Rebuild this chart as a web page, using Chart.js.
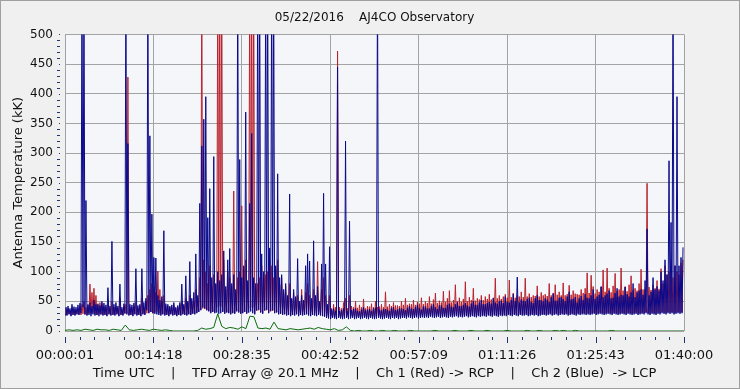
<!DOCTYPE html>
<html>
<head>
<meta charset="utf-8">
<title>AJ4CO Observatory 05/22/2016</title>
<script src="https://cdn.jsdelivr.net/npm/chart.js@4.4.1/dist/chart.umd.min.js"></script>
<style>
  html, body { margin: 0; padding: 0; background: #f0f0f0; }
  canvas { display: block; }
</style>
</head>
<body>
<canvas id="chart" width="740" height="389"></canvas>
<script>
"use strict";

// time axis: seconds after 00:00:00 UTC
const timeStart = 1;
const timeEnd = 6000;
const timeLabels = ["00:00:01", "00:14:18", "00:28:35", "00:42:52", "00:57:09", "01:11:26", "01:25:43", "01:40:00"];
const minorPerMajor = 6;

// Ch 2 (Blue) -> LCP, per time bin: highest and lowest reading (kK)
const lcpHigh = [
    40, 42, 38, 45, 41, 40, 44, 47, 600, 600,
    220, 44, 48, 42, 52, 45, 46, 43, 50, 47,
    44, 73, 42, 151, 45, 48, 42, 79, 40, 46,
    600, 316, 45, 44, 47, 105, 43, 45, 105, 48,
    55, 600, 329, 197, 124, 123, 60, 52, 58, 169,
    46, 45, 42, 44, 48, 40, 43, 48, 79, 45,
    93, 50, 117, 55, 65, 130, 60, 215, 312, 357,
    395, 191, 240, 90, 294, 80, 100, 85, 95, 135,
    75, 120, 139, 80, 95, 70, 600, 289, 90, 110,
    369, 85, 215, 333, 90, 80, 600, 600, 130, 100,
    600, 600, 140, 600, 600, 110, 265, 90, 95, 70,
    80, 60, 231, 55, 70, 58, 122, 50, 60, 52,
    110, 130, 118, 55, 152, 60, 75, 50, 113, 232,
    113, 45, 142, 36, 38, 34, 445, 34, 35, 38,
    320, 33, 185, 35, 37, 38, 34, 33, 36, 40,
    35, 36, 37, 34, 38, 39, 600, 36, 35, 37,
    37, 36, 34, 39, 40, 35, 36, 38, 38, 37,
    35, 39, 42, 38, 37, 40, 44, 39, 36, 41,
    41, 38, 38, 42, 45, 40, 37, 43, 43, 39,
    39, 44, 46, 41, 40, 45, 48, 42, 42, 44,
    47, 43, 41, 46, 50, 44, 44, 48, 52, 45,
    45, 47, 49, 46, 55, 48, 46, 50, 51, 47,
    58, 49, 48, 52, 62, 50, 91, 48, 53, 51,
    50, 54, 56, 49, 47, 55, 60, 52, 52, 50,
    55, 53, 49, 57, 63, 51, 51, 56, 57, 54,
    50, 58, 66, 53, 54, 57, 48, 55, 59, 52,
    62, 56, 55, 60, 70, 54, 58, 61, 75, 57,
    60, 63, 68, 55, 56, 64, 72, 58, 61, 60,
    74, 62, 58, 65, 80, 57, 65, 68, 70, 61,
    85, 172, 60, 66, 90, 70, 75, 68, 100, 85,
    120, 95, 287, 183, 600, 110, 395, 110, 124, 141
];
const lcpLow = [
    27, 26, 28, 25, 27, 26, 28, 27, 30, 40,
    28, 26, 27, 25, 28, 26, 27, 25, 28, 26,
    27, 25, 28, 26, 27, 26, 28, 25, 27, 26,
    30, 28, 26, 27, 25, 28, 26, 27, 25, 28,
    27, 35, 30, 32, 30, 29, 28, 27, 26, 28,
    26, 27, 25, 28, 26, 27, 25, 27, 26, 28,
    27, 26, 28, 27, 29, 28, 30, 32, 35, 40,
    38, 35, 33, 30, 32, 30, 31, 29, 30, 32,
    29, 31, 30, 28, 30, 29, 33, 31, 29, 30,
    32, 29, 31, 33, 30, 28, 35, 36, 31, 29,
    35, 36, 30, 34, 35, 30, 31, 28, 29, 27,
    28, 26, 27, 25, 27, 26, 28, 25, 27, 26,
    27, 28, 26, 25, 27, 26, 25, 27, 26, 25,
    24, 22, 21, 20, 22, 21, 20, 22, 21, 20,
    21, 22, 20, 21, 22, 20, 21, 22, 20, 21,
    22, 21, 20, 22, 21, 20, 21, 22, 21, 20,
    21, 22, 21, 20, 22, 21, 22, 20, 21, 22,
    22, 21, 23, 22, 21, 22, 23, 21, 22, 23,
    22, 23, 22, 24, 23, 22, 23, 24, 22, 23,
    24, 23, 22, 24, 23, 24, 25, 23, 24, 23,
    24, 25, 23, 24, 25, 24, 23, 25, 24, 25,
    25, 24, 26, 25, 24, 26, 25, 24, 26, 25,
    26, 25, 27, 26, 25, 27, 26, 25, 27, 26,
    26, 27, 25, 26, 27, 26, 27, 25, 26, 27,
    27, 26, 27, 28, 26, 27, 28, 26, 27, 28,
    27, 28, 26, 27, 28, 27, 26, 28, 27, 28,
    28, 27, 28, 27, 28, 29, 27, 28, 29, 28,
    27, 28, 29, 28, 27, 29, 28, 27, 28, 29,
    28, 27, 29, 28, 27, 28, 29, 27, 28, 29,
    28, 30, 28, 27, 29, 28, 27, 29, 28, 30,
    29, 28, 30, 29, 30, 28, 29, 30, 29, 30
];

// Ch 1 (Red) -> RCP, same bins
const rcpHigh = [
    36, 38, 35, 40, 37, 36, 38, 42, 45, 50,
    40, 45, 79, 65, 72, 60, 44, 48, 46, 42,
    40, 45, 38, 50, 40, 42, 38, 55, 36, 42,
    45, 428, 40, 40, 42, 48, 39, 42, 55, 40,
    50, 60, 70, 80, 75, 65, 101, 70, 50, 60,
    42, 42, 40, 40, 44, 38, 40, 45, 50, 42,
    55, 48, 60, 50, 50, 70, 55, 90, 600, 120,
    100, 80, 110, 75, 95, 78, 600, 600, 600, 120,
    70, 100, 90, 75, 236, 66, 90, 100, 211, 105,
    120, 80, 600, 600, 600, 70, 80, 90, 110, 88,
    95, 100, 120, 110, 90, 105, 120, 78, 90, 63,
    75, 58, 80, 54, 65, 56, 60, 49, 70, 50,
    65, 80, 60, 50, 70, 55, 117, 48, 70, 90,
    60, 42, 60, 38, 45, 40, 472, 40, 38, 48,
    55, 38, 60, 42, 40, 50, 39, 44, 40, 54,
    38, 42, 41, 46, 40, 50, 40, 41, 45, 40,
    66, 41, 45, 42, 48, 43, 43, 42, 50, 44,
    55, 44, 46, 45, 52, 44, 49, 46, 56, 45,
    50, 47, 58, 46, 53, 64, 47, 51, 48, 67,
    49, 55, 68, 48, 52, 78, 50, 56, 49, 54,
    83, 50, 57, 52, 72, 51, 55, 53, 60, 52,
    58, 54, 62, 53, 56, 89, 55, 60, 54, 58,
    62, 56, 86, 57, 64, 56, 60, 58, 66, 57,
    89, 58, 63, 57, 60, 59, 76, 58, 65, 60,
    62, 59, 80, 60, 64, 78, 61, 66, 60, 81,
    60, 62, 77, 61, 68, 63, 62, 61, 70, 64,
    72, 98, 64, 94, 75, 63, 70, 66, 74, 103,
    66, 106, 72, 65, 76, 97, 67, 70, 106, 68,
    75, 67, 78, 93, 69, 72, 68, 80, 104, 70,
    70, 249, 74, 69, 78, 72, 85, 71, 105, 80,
    110, 95, 100, 105, 90, 110, 100, 95, 115, 120
];
const rcpLow = [
    28, 27, 29, 26, 28, 27, 29, 28, 27, 29,
    28, 27, 30, 29, 31, 28, 27, 29, 28, 27,
    28, 26, 29, 27, 28, 27, 29, 26, 28, 27,
    29, 30, 27, 28, 26, 29, 27, 28, 26, 29,
    28, 30, 31, 32, 30, 31, 33, 30, 28, 29,
    27, 28, 26, 29, 27, 28, 26, 28, 27, 29,
    28, 27, 29, 28, 30, 29, 31, 33, 36, 38,
    37, 35, 34, 31, 33, 31, 40, 42, 41, 33,
    30, 32, 31, 29, 31, 30, 34, 32, 30, 31,
    33, 30, 38, 40, 39, 29, 34, 35, 32, 30,
    34, 35, 31, 33, 34, 31, 32, 29, 30, 28,
    29, 27, 28, 26, 28, 27, 29, 26, 28, 27,
    28, 29, 27, 26, 28, 27, 26, 28, 27, 26,
    25, 24, 23, 22, 24, 23, 22, 24, 23, 22,
    23, 24, 22, 23, 24, 22, 23, 24, 22, 23,
    24, 23, 22, 24, 23, 22, 23, 24, 23, 22,
    23, 24, 23, 22, 24, 23, 24, 22, 23, 24,
    24, 23, 25, 24, 23, 24, 25, 23, 24, 25,
    24, 25, 24, 26, 25, 24, 25, 26, 24, 25,
    26, 25, 24, 26, 25, 26, 27, 25, 26, 25,
    26, 27, 25, 26, 27, 26, 25, 27, 26, 27,
    27, 26, 28, 27, 26, 28, 27, 26, 28, 27,
    28, 27, 29, 28, 27, 29, 28, 27, 29, 28,
    28, 29, 27, 28, 29, 28, 29, 27, 28, 29,
    29, 28, 29, 30, 28, 29, 30, 28, 29, 30,
    29, 30, 28, 29, 30, 29, 28, 30, 29, 30,
    30, 29, 30, 29, 30, 31, 29, 30, 31, 30,
    29, 30, 31, 30, 29, 31, 30, 29, 30, 31,
    30, 29, 31, 30, 29, 30, 31, 29, 30, 31,
    30, 32, 30, 29, 31, 30, 29, 31, 30, 32,
    31, 30, 32, 31, 32, 30, 31, 32, 31, 32
];

// third trace (green), 155 samples
const greenValues = [
    1, 2, 1, 2, 1, 3, 2, 1, 3, 2,
    2, 1, 3, 2, 1, 10, 2, 1, 2, 3,
    2, 1, 3, 2, 1, 2, 1, 0, 0, 0,
    0, 0, 0, 1, 5, 3, 4, 6, 29, 8,
    4, 6, 5, 3, 7, 4, 25, 24, 5, 4,
    5, 3, 15, 4, 3, 2, 4, 3, 2, 3,
    4, 5, 3, 6, 4, 3, 2, 4, 1, 2,
    7, 1, 0, 1, 0, 0, 1, 0, 0, 1,
    0, 0, 1, 0, 0, 0, 1, 0, 0, 0,
    0, 0, 1, 0, 0, 0, 0, 1, 0, 0,
    0, 1, 0, 0, 0, 1, 0, 0, 0, 0,
    1, 0, 0, 0, 0, 1, 0, 0, 1, 0,
    0, 0, 1, 0, 1, 0, 0, 1, 0, 0,
    0, 0, 0, 0, 0, 0, 1, 0, 0, 0,
    0, 0, 0, 0, 0, 0, 0, 0, 0, 0,
    0, 0, 0, 0, 0
];

const titleText = "05/22/2016    AJ4CO Observatory";
const yTitle = "Antenna Temperature (kK)";
const xTitle = "Time UTC    |    TFD Array @ 20.1 MHz    |    Ch 1 (Red) -> RCP    |    Ch 2 (Blue)  -> LCP";

// each bin becomes two points: its low then its high, so the trace zigzags like the raw record
const binPoints = (low, high) => {
    const step = (timeEnd - timeStart) / low.length;
    const pts = [];
    low.forEach((v, i) => {
        const t = timeStart + i * step;
        pts.push({ x: t, y: v });
        pts.push({ x: t + step / 2, y: high[i] });
    });
    return pts;
};
const toPoints = (vals) => {
    const step = (timeEnd - timeStart) / (vals.length - 1);
    return vals.map((v, i) => ({ x: timeStart + i * step, y: v }));
};

const majorStep = (timeEnd - timeStart) / (timeLabels.length - 1);
const xTicks = [];
for (let i = 0; i <= (timeLabels.length - 1) * minorPerMajor; i++) {
    xTicks.push(timeStart + i * majorStep / minorPerMajor);
}

const fontFamily = "'DejaVu Sans', Verdana, sans-serif";
const gridColor = "#a3a3a3";
const tickMarkColor = "#1f3570";

const backdrop = {
    id: "backdrop",
    beforeDraw(chart) {
        const { ctx, chartArea: a } = chart;
        ctx.save();
        ctx.fillStyle = "#f0f0f0";
        ctx.fillRect(0, 0, chart.width, chart.height);
        ctx.strokeStyle = "#a0a0a0";
        ctx.strokeRect(0.5, 0.5, chart.width - 1, chart.height - 1);
        ctx.fillStyle = "#f5f6f9";
        ctx.fillRect(a.left, a.top, a.right - a.left, a.bottom - a.top);
        ctx.restore();
    }
};

// tick marks sit a few pixels away from the plot, like the original
const offsetTicks = {
    id: "offsetTicks",
    afterDraw(chart) {
        const { ctx, chartArea: a, scales } = chart;
        ctx.save();
        ctx.strokeStyle = tickMarkColor;
        ctx.lineWidth = 1;
        ctx.beginPath();
        scales.x.ticks.forEach((t, i) => {
            const px = Math.round(scales.x.getPixelForValue(t.value)) + 0.5;
            const major = i % minorPerMajor === 0;
            ctx.moveTo(px, a.bottom + 6);
            ctx.lineTo(px, a.bottom + (major ? 12 : 9));
        });
        scales.y.ticks.forEach((t) => {
            const py = Math.round(scales.y.getPixelForValue(t.value)) + 0.5;
            const major = t.value % 50 === 0;
            ctx.moveTo(a.left - (major ? 6 : 8), py);
            ctx.lineTo(a.left - 5, py);
        });
        ctx.stroke();
        ctx.restore();
    }
};

new Chart(document.getElementById("chart"), {
    type: "line",
    data: {
        datasets: [
            { label: "Ch 2 (Blue)", data: binPoints(lcpLow, lcpHigh), borderColor: "#0a0a8c", borderWidth: 1, order: 1 },
            { label: "Ch 1 (Red)", data: binPoints(rcpLow, rcpHigh), borderColor: "#b8222e", borderWidth: 1, order: 2 },
            { label: "Green", data: toPoints(greenValues), borderColor: "#0b6b0b", borderWidth: 1, order: 3 }
        ]
    },
    options: {
        responsive: false,
        animation: false,
        devicePixelRatio: 1,
        parsing: false,
        normalized: true,
        elements: { point: { radius: 0 }, line: { tension: 0 } },
        layout: { padding: { top: 0, right: 56, bottom: 0, left: 0 } },
        plugins: {
            legend: { display: false },
            tooltip: { enabled: false },
            title: {
                display: true,
                fullSize: false,
                text: titleText,
                color: "#111",
                font: { family: fontFamily, size: 12, weight: "normal" },
                padding: { top: 11, bottom: 9 }
            }
        },
        scales: {
            x: {
                type: "linear",
                min: timeStart,
                max: timeEnd,
                afterBuildTicks: (s) => { s.ticks = xTicks.map((v) => ({ value: v })); },
                afterFit: (s) => { s.height = 58; },
                grid: {
                    color: (c) => (c.index % minorPerMajor === 0 ? gridColor : "rgba(0,0,0,0)"),
                    drawTicks: false
                },
                border: { display: false },
                ticks: {
                    autoSkip: false,
                    maxRotation: 0,
                    padding: 17,
                    color: "#111",
                    font: { family: fontFamily, size: 13 },
                    callback: (v, i) => (i % minorPerMajor === 0 ? timeLabels[i / minorPerMajor] : "")
                },
                title: {
                    display: true,
                    text: xTitle,
                    color: "#111",
                    font: { family: fontFamily, size: 13 },
                    padding: { top: 0, bottom: 8 }
                }
            },
            y: {
                min: 0,
                max: 500,
                afterBuildTicks: (s) => {
                    const t = [];
                    for (let v = 0; v <= 500; v += 10) t.push({ value: v });
                    s.ticks = t;
                },
                afterFit: (s) => { s.width = 65; },
                grid: {
                    color: (c) => (c.tick && c.tick.value % 50 === 0 ? gridColor : "rgba(0,0,0,0)"),
                    drawTicks: false
                },
                border: { display: true, color: gridColor },
                ticks: {
                    autoSkip: false,
                    padding: 12,
                    color: "#111",
                    font: { family: fontFamily, size: 12 },
                    callback: (v) => (v % 50 === 0 ? String(v) : "")
                },
                title: {
                    display: true,
                    text: yTitle,
                    color: "#111",
                    font: { family: fontFamily, size: 13 },
                    padding: { top: 11, bottom: 0 }
                }
            }
        }
    },
    plugins: [backdrop, offsetTicks]
});
</script>
</body>
</html>
